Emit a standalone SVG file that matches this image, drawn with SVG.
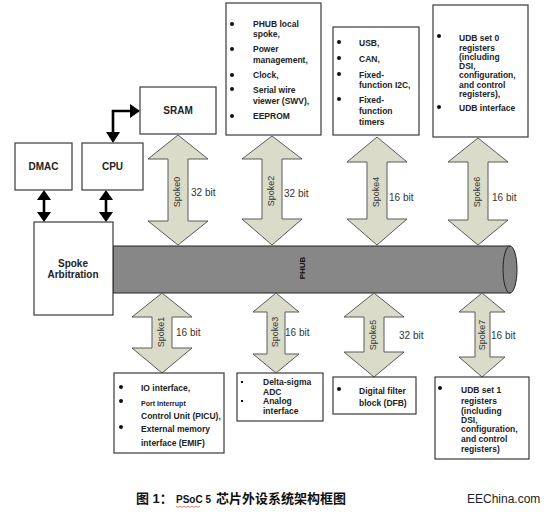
<svg xmlns="http://www.w3.org/2000/svg" width="546" height="512" viewBox="0 0 546 512">
<style>
.box{fill:#fff;stroke:#3a3a3a;stroke-width:1.2}
.spoke{fill:#dadcc9;stroke:#5a5a5a;stroke-width:1}
.t{font-family:"Liberation Sans",Arial,sans-serif;font-weight:bold;font-size:8.5px;fill:#222}
.title{font-family:"Liberation Sans",Arial,sans-serif;font-weight:bold;font-size:10px;fill:#222;text-anchor:middle}
.sl{font-family:"Liberation Sans",Arial,sans-serif;font-size:9px;fill:#333;text-anchor:middle;dominant-baseline:central}
.bit{font-family:"Liberation Sans",Arial,sans-serif;font-size:10px;fill:#333;dominant-baseline:central}
.dot{fill:#111}
.blk{stroke:#000;stroke-width:2.6;fill:none}
.head{fill:#000}
</style>
<rect width="546" height="512" fill="#fff"/>

<g id="connectors">
  <path class="blk" d="M113,134 L113,111 L131,111"/>
  <polygon class="head" points="106,132 120,132 113,143"/>
  <polygon class="head" points="130,104 130,118 140,111"/>
  <line class="blk" x1="44" y1="198" x2="44" y2="214"/>
  <polygon class="head" points="37,200 51,200 44,190"/>
  <polygon class="head" points="37,212 51,212 44,222"/>
  <line class="blk" x1="106" y1="198" x2="106" y2="214"/>
  <polygon class="head" points="99,200 113,200 106,190"/>
  <polygon class="head" points="99,212 113,212 106,222"/>
</g>

<g id="bus">
  <rect x="113" y="246" width="397" height="47" fill="#878787" stroke="#222" stroke-width="1"/>
  <ellipse cx="510" cy="269.5" rx="7" ry="23.5" fill="#828282" stroke="#222" stroke-width="1"/>
  <text transform="rotate(-90 302 268)" x="302" y="268" text-anchor="middle" dominant-baseline="central" style="font-family:'Liberation Sans',Arial,sans-serif;font-weight:bold;font-size:8px;fill:#111">PHUB</text>
</g>

<g id="dmac"><rect class="box" x="15" y="143" width="57" height="47"/><text class="title" x="43.5" y="170">DMAC</text></g>
<g id="cpu"><rect class="box" x="82" y="143" width="61" height="47"/><text class="title" x="112.5" y="170">CPU</text></g>
<g id="sram"><rect class="box" x="140" y="87" width="76" height="47"/><text class="title" x="178" y="114">SRAM</text></g>
<g id="arbitration"><rect class="box" x="34" y="222" width="79" height="93"/>
  <text class="title" x="73" y="267">Spoke</text><text class="title" x="73" y="278">Arbitration</text></g>

<g id="spoke0">
  <path class="spoke" d="M178,135 L208,159 L188,159 L188,221 L208,221 L178,245 L148,221 L168,221 L168,159 L148,159 Z"/>
  <text class="sl" transform="rotate(-90 177 192)" x="177" y="192">Spoke0</text>
  <text class="bit" x="191" y="192">32 bit</text>
</g>
<g id="spoke2">
  <path class="spoke" d="M272,136 L302,159 L282,159 L282,219 L302,219 L272,245 L242,219 L262,219 L262,159 L242,159 Z"/>
  <text class="sl" transform="rotate(-90 271 191)" x="271" y="191">Spoke2</text>
  <text class="bit" x="284" y="193">32 bit</text>
</g>
<g id="spoke4">
  <path class="spoke" d="M377,137 L407,162 L387,162 L387,219 L407,219 L377,245 L347,219 L367,219 L367,162 L347,162 Z"/>
  <text class="sl" transform="rotate(-90 376 192)" x="376" y="192">Spoke4</text>
  <text class="bit" x="389" y="197">16 bit</text>
</g>
<g id="spoke6">
  <path class="spoke" d="M478,138 L508,162 L488,162 L488,220 L508,220 L478,245 L448,220 L468,220 L468,162 L448,162 Z"/>
  <text class="sl" transform="rotate(-90 477 192)" x="477" y="192">Spoke6</text>
  <text class="bit" x="492" y="197">16 bit</text>
</g>
<g id="spoke1">
  <path class="spoke" d="M162,293 L192,317 L172,317 L172,348 L192,348 L162,373 L132,348 L152,348 L152,317 L132,317 Z"/>
  <text class="sl" transform="rotate(-90 161 332)" x="161" y="332">Spoke1</text>
  <text class="bit" x="176" y="332">16 bit</text>
</g>
<g id="spoke3">
  <path class="spoke" d="M276,293 L299,312 L285,312 L285,354 L299,354 L276,373 L253,354 L267,354 L267,312 L253,312 Z"/>
  <text class="sl" transform="rotate(-90 275 332)" x="275" y="332">Spoke3</text>
  <text class="bit" x="285" y="332">16 bit</text>
</g>
<g id="spoke5">
  <path class="spoke" d="M374,293 L404,317 L384,317 L384,352 L404,352 L374,377 L344,352 L364,352 L364,317 L344,317 Z"/>
  <text class="sl" transform="rotate(-90 373 335)" x="373" y="335">Spoke5</text>
  <text class="bit" x="399" y="335">32 bit</text>
</g>
<g id="spoke7">
  <path class="spoke" d="M482,293 L505,312 L490,312 L490,357 L505,357 L482,377 L459,357 L475,357 L475,312 L459,312 Z"/>
  <text class="sl" transform="rotate(-90 482 335)" x="482" y="335">Spoke7</text>
  <text class="bit" x="491" y="335">16 bit</text>
</g>

<g id="box-phub-local">
  <rect class="box" x="226" y="3" width="95" height="132"/>
  <circle class="dot" cx="232" cy="24" r="2"/><circle class="dot" cx="232" cy="49" r="2"/><circle class="dot" cx="232" cy="75" r="2"/><circle class="dot" cx="232" cy="89" r="2"/><circle class="dot" cx="232" cy="116" r="2"/>
  <text class="t" x="253" y="27">PHUB local</text>
  <text class="t" x="253" y="37">spoke,</text>
  <text class="t" x="253" y="52">Power</text>
  <text class="t" x="253" y="63">management,</text>
  <text class="t" x="253" y="78">Clock,</text>
  <text class="t" x="253" y="93">Serial wire</text>
  <text class="t" x="253" y="104">viewer (SWV),</text>
  <text class="t" x="253" y="119">EEPROM</text>
</g>
<g id="box-usb">
  <rect class="box" x="333" y="27" width="86" height="108"/>
  <circle class="dot" cx="339" cy="42" r="2"/><circle class="dot" cx="339" cy="58" r="2"/><circle class="dot" cx="339" cy="74" r="2"/><circle class="dot" cx="339" cy="99" r="2"/>
  <text class="t" x="359" y="46">USB,</text>
  <text class="t" x="359" y="62">CAN,</text>
  <text class="t" x="359" y="78">Fixed-</text>
  <text class="t" x="359" y="88">function I2C,</text>
  <text class="t" x="359" y="103">Fixed-</text>
  <text class="t" x="359" y="114">function</text>
  <text class="t" x="359" y="125">timers</text>
</g>
<g id="box-udb0">
  <rect class="box" x="433" y="5" width="95" height="132"/>
  <circle class="dot" cx="439" cy="36" r="2"/><circle class="dot" cx="439" cy="107" r="2"/>
  <text class="t" x="459" y="41">UDB set 0</text>
  <text class="t" x="459" y="51">registers</text>
  <text class="t" x="459" y="60">(including</text>
  <text class="t" x="459" y="69">DSI,</text>
  <text class="t" x="459" y="78">configuration,</text>
  <text class="t" x="459" y="88">and control</text>
  <text class="t" x="459" y="97">registers),</text>
  <text class="t" x="459" y="111">UDB interface</text>
</g>
<g id="box-io">
  <rect class="box" x="114" y="373" width="110" height="80"/>
  <circle class="dot" cx="121" cy="387" r="2"/><circle class="dot" cx="121" cy="401" r="2"/><circle class="dot" cx="121" cy="427" r="2"/>
  <text class="t" x="141" y="391">IO interface,</text>
  <text class="t" x="141" y="406" style="font-size:7px">Port Interrupt</text>
  <text class="t" x="141" y="419">Control Unit (PICU),</text>
  <text class="t" x="141" y="432">External memory</text>
  <text class="t" x="141" y="446">interface (EMIF)</text>
</g>
<g id="box-delta">
  <rect class="box" x="237" y="373" width="86" height="48"/>
  <rect class="dot" x="241" y="381" width="2" height="2"/><rect class="dot" x="241" y="400" width="2" height="2"/>
  <text class="t" x="263" y="385">Delta-sigma</text>
  <text class="t" x="263" y="395">ADC</text>
  <text class="t" x="263" y="404">Analog</text>
  <text class="t" x="263" y="414">interface</text>
</g>
<g id="box-dfb">
  <rect class="box" x="333" y="377" width="83" height="37"/>
  <circle class="dot" cx="339" cy="389" r="2"/>
  <text class="t" x="359" y="394">Digital filter</text>
  <text class="t" x="359" y="406">block (DFB)</text>
</g>
<g id="box-udb1">
  <rect class="box" x="435" y="377" width="94" height="82"/>
  <circle class="dot" cx="440" cy="388" r="2"/>
  <text class="t" x="461" y="393">UDB set 1</text>
  <text class="t" x="461" y="404">registers</text>
  <text class="t" x="461" y="414">(including</text>
  <text class="t" x="461" y="423">DSI,</text>
  <text class="t" x="461" y="432">configuration,</text>
  <text class="t" x="461" y="442">and control</text>
  <text class="t" x="461" y="452">registers)</text>
</g>

<g id="caption">
  <text x="136" y="503" style="font-family:'Liberation Sans','Noto Sans CJK SC',sans-serif;font-weight:bold;font-size:13px;fill:#111">图 1：</text>
  <text x="176" y="503" style="font-family:'Liberation Sans',Arial,sans-serif;font-weight:bold;font-size:10px;fill:#111">PSoC 5</text>
  <path d="M176,506 l2,1.5 l2,-1.5 l2,1.5 l2,-1.5 l2,1.5 l2,-1.5 l2,1.5 l2,-1.5 l2,1.5 l2,-1.5 l2,1.5 l2,-1.5" fill="none" stroke="#d04040" stroke-width="0.7"/>
  <text x="216" y="503" style="font-family:'Noto Sans CJK SC',sans-serif;font-weight:bold;font-size:13px;fill:#111">芯片外设系统架构框图</text>
  <text x="467" y="503" style="font-family:'Liberation Sans',Arial,sans-serif;font-size:12px;fill:#222">EEChina.com</text>
</g>
</svg>
